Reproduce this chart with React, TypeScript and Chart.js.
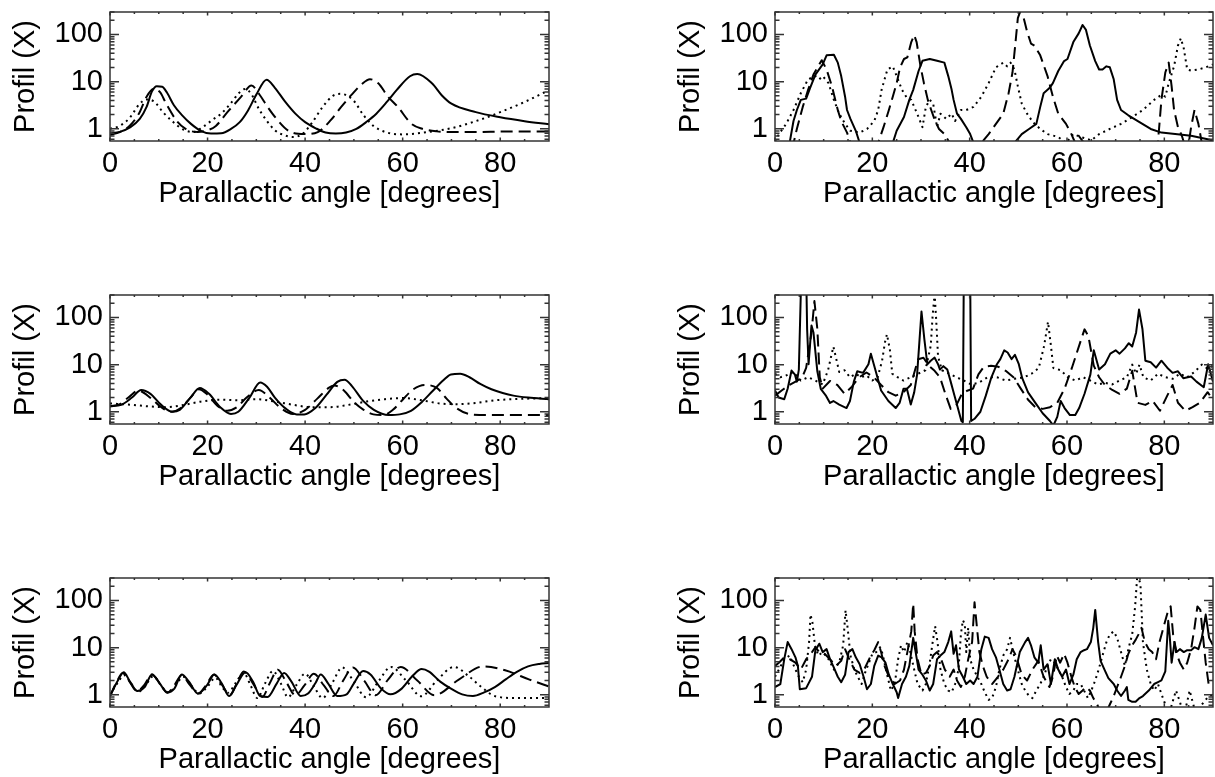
import React, { useEffect, useRef } from "react";
import { Chart, registerables } from "chart.js";

Chart.register(...registerables);

type Pt = [number, number];

// ---------- axis definitions ----------
const xTickValues = [0, 20, 40, 60, 80];
const yTickValues = [1, 10, 100];
const X_MIN = 0;
const X_MAX = 90;
const Y_MIN = 0.55;
const Y_MAX = 300;
const xTitle = "Parallactic angle [degrees]";
const yTitle = "Profil (X)";

// ---------- data: top-left ----------
const tlSolid: Pt[] = [[0,0.8],[2,0.86],[4.1,1.07],[6.1,1.62],[7.5,2.91],[8.6,6.2],[9.6,8.0],[10.7,7.8],[11.7,5.8],[13.1,3.15],[14.8,1.93],[16.6,1.27],[18.6,0.905],[20.7,0.79],[22.8,0.8],[24.8,0.99],[26.6,1.38],[28.3,2.45],[30,5.3],[32.1,11],[33.8,7.4],[35.9,3.75],[38,2.09],[40,1.38],[42.2,1.02],[44.2,0.83],[46.3,0.79],[48.4,0.83],[50.5,0.99],[52.5,1.38],[54.6,2.09],[56.8,3.75],[58.8,6.69],[61.5,13],[63,14.5],[66,9.2],[68,5.15],[70,3.4],[75,2.25],[80,1.75],[85,1.45],[90,1.25]];
const tlDashed: Pt[] = [[0,0.745],[2,0.85],[4,1.15],[6,2.17],[7.5,4.8],[9,7.0],[10.3,5.9],[11.5,3.42],[13.7,1.46],[15.5,1.0],[18,0.85],[20,0.93],[21.7,1.15],[24.2,2.33],[26.9,4.79],[29,8.3],[30.6,5.4],[32.3,2.91],[34,1.69],[36.6,0.905],[39.9,0.77],[42.6,0.85],[45.3,1.54],[47.4,2.91],[49.5,5.24],[51.6,8.8],[53.3,11.2],[55,9.2],[57,4.79],[59,2.91],[61.8,1.27],[64,1.0],[67,0.88],[70,0.85],[75,0.85],[80,0.87],[85,0.88],[90,0.88]];
const tlDotted: Pt[] = [[0,1.0],[2,1.15],[4,1.69],[6,3.3],[7.5,4.2],[9,3.8],[11,2.17],[13,1.38],[15,0.965],[17,0.85],[19,1.08],[21,1.54],[22.8,2.09],[24.7,3.42],[26.5,5.8],[27.7,7.0],[29,5.4],[30.5,2.66],[32,1.54],[33.8,0.93],[35.5,0.745],[37.5,0.67],[39.5,0.78],[41.5,1.38],[43.6,2.91],[45.7,5.0],[47.3,5.5],[49.9,4.0],[52,1.93],[54,1.15],[56.8,0.83],[60,0.76],[65,0.85],[70,1.03],[75,1.45],[80,2.25],[85,3.7],[90,6.6]];

// ---------- data: top-right ----------
const trSolid: Pt[] = [[2.5,0.3],[3.0,0.5],[3.8,1.46],[4.5,2.5],[5.3,4.1],[6.4,4.36],[7.2,7.3],[8.3,14.1],[9.8,23.2],[10.6,36.1],[12.1,37.2],[12.9,25.3],[13.6,13.1],[14.4,4.79],[14.8,2.5],[15.5,1.62],[16.6,0.905],[17.4,0.5],[18,0.3],[23.5,0.3],[24.2,0.5],[25,0.905],[26.5,1.77],[27.6,4.1],[28.4,6.69],[29.5,16.8],[30.3,27.6],[31.8,30.2],[33.3,27.6],[34.8,25.3],[35.6,13.1],[36.3,6.69],[36.7,4.1],[37.4,2.09],[38.2,1.62],[39.3,1.08],[40.1,0.77],[40.8,0.5],[41.5,0.3],[48.5,0.3],[49.2,0.5],[50.7,0.77],[52.2,0.99],[53.7,1.27],[54.5,2.91],[55.2,5.69],[56.4,7.3],[57.1,9.28],[58.2,16.8],[59.4,27.3],[60.1,30.2],[61.3,69],[62.4,105.6],[63.2,159],[63.9,125],[64.7,58.3],[65.8,27.3],[66.6,18.1],[67.3,18.1],[68.1,21.1],[68.8,20.1],[69.6,11.2],[70.3,4.1],[71.1,2.5],[72.6,1.93],[74.9,1.38],[77.2,0.99],[79.4,0.83],[85.5,0.71],[88.9,0.6],[90,0.56]];
const trDashed: Pt[] = [[3.5,0.36],[4.5,1.0],[5.7,2.91],[6.8,6.69],[7.9,14.1],[9.1,23.2],[9.6,28.5],[10.6,18.1],[11.7,7.94],[12.9,2.5],[13.6,1.46],[14.8,0.83],[15.5,0.5],[16.5,0.3],[20.5,0.3],[21.2,0.5],[22.3,1.08],[23.4,2.5],[24.2,4.79],[25,9.28],[25.7,20.1],[26.5,30.2],[27.2,32.8],[28,69],[28.6,97.2],[29.1,69],[29.9,21.1],[30.6,9.28],[31.4,4.1],[32.1,2.5],[32.9,1.46],[33.7,0.99],[34.8,0.77],[35.9,0.5],[36.5,0.3],[41.5,0.3],[42.4,0.5],[43.9,0.77],[45.4,1.27],[46.9,2.09],[48,5.69],[48.8,15.6],[49.5,83.2],[49.9,223],[50.3,290],[51.1,223],[51.8,115],[52.6,64.3],[53.3,58.3],[54.5,36.1],[56,13.1],[57.1,4.79],[58.2,2.09],[59.8,1.27],[60.9,0.77],[61.7,0.5],[62.4,0.71],[63.5,0.5],[64.5,0.3],[78.5,0.3],[79.4,4.1],[80.2,15.6],[80.9,25.3],[81.5,7.94],[82,2.5],[82.8,1.08],[83.6,0.71],[84.7,0.3],[85.5,1.08],[86.2,2.5],[87,1.27],[87.7,0.5],[88.5,0.3]];
const trDotted: Pt[] = [[0,0.53],[0.8,0.77],[2.3,1.27],[3.8,2.5],[5.3,5.69],[6.8,11.2],[8.3,13.1],[9.1,11.2],[9.8,13.1],[11,9.28],[12.1,4.1],[13.2,2.09],[14.4,1.27],[15.5,0.905],[17.4,0.83],[18.9,0.99],[20.4,1.46],[21.2,2.5],[21.9,6.69],[23.1,18.1],[24.2,21.1],[25,13.1],[26.1,6.69],[27,4.71],[28,4.1],[29.5,1.77],[30.3,1.08],[31,2.91],[31.8,4.1],[32.5,3.42],[33.3,1.08],[34,2.09],[35.2,1.62],[36.3,2.09],[37,1.46],[38.2,2.5],[39.3,2.5],[40.8,2.91],[42.4,4.79],[43.9,9.28],[45.4,20.1],[46.9,25.3],[47.7,21.1],[48.4,25.3],[49.2,18.1],[49.9,7.94],[50.7,3.42],[51.8,2.09],[53,1.38],[54.5,0.99],[56,0.77],[58.2,0.67],[59.8,0.5],[61.3,0.77],[62.8,0.67],[65,0.57],[66.6,0.77],[68.8,0.99],[71.1,1.27],[73.4,1.77],[75.6,2.5],[77.9,4.1],[79.4,5.24],[80.2,4.79],[80.9,9.28],[82,21.1],[82.8,58.3],[83.4,83.2],[84,50.3],[84.7,18.1],[85.5,17.1],[87,18.1],[88.5,20.1],[90,23.2]];

// ---------- data: middle-left ----------
const mlSolid: Pt[] = [[0,1.3],[2.3,1.4],[4.5,2.0],[6.4,2.9],[8.3,2.4],[10.5,1.4],[12.8,1.0],[14.3,1.1],[16.5,2.0],[18.4,3.2],[20.3,2.4],[22.6,1.25],[24.8,0.9],[26.3,1.0],[28.6,2.0],[30.8,4.2],[32.2,3.4],[33.8,2.0],[36.1,1.15],[38.3,0.88],[39.8,0.88],[42.1,1.2],[44.4,2.3],[46.6,4.3],[48.1,4.8],[49.6,3.5],[51.9,1.7],[54.1,1.1],[57.1,0.85],[59.4,0.88],[61.7,1.05],[63.9,1.6],[66.2,2.8],[68.4,4.7],[69.9,6.2],[71.8,6.4],[73.7,5.4],[75.9,3.9],[78.2,3.0],[80.5,2.5],[82.7,2.2],[85.7,2.0],[90,1.85]];
const mlDashed: Pt[] = [[0,1.3],[2,1.45],[4,2.1],[5.8,2.8],[8.5,1.9],[10.5,1.25],[12.5,1.0],[14.5,1.2],[16.5,2.0],[18.2,3.0],[20,2.3],[22,1.35],[24,1.05],[26,1.25],[28,2.0],[30.5,2.9],[32.5,2.1],[35,1.2],[37.5,0.9],[40,1.1],[42.5,1.9],[45,3.3],[46,3.6],[48,2.8],[50,1.6],[52,1.1],[54,0.88],[56,0.85],[58,1.1],[60,1.8],[62,2.9],[64.5,3.7],[67,3.2],[69,1.9],[71,1.2],[74,0.88],[78,0.85],[84,0.85],[90,0.85]];
const mlDotted: Pt[] = [[0,1.5],[4.5,1.4],[8,1.3],[11.3,1.25],[14.3,1.35],[18.8,1.65],[22.6,1.8],[26.3,1.75],[30,1.85],[33.8,1.65],[37.6,1.4],[41.4,1.25],[45.1,1.25],[48.9,1.4],[52.6,1.65],[56.4,1.85],[60.2,1.95],[63.9,1.75],[67.7,1.5],[71.4,1.45],[75.2,1.55],[78.9,1.75],[82.7,1.85],[90,1.95]];

// ---------- data: middle-right ----------
const mrSolid: Pt[] = [[0,2.83],[0.75,2.01],[1.9,1.85],[2.6,3.07],[3.4,7.48],[4.1,6.14],[4.5,4.36],[4.9,7.85],[5.3,318],[5.6,1000],[6.4,1000],[6.6,57.1],[6.9,10.2],[7.5,67.8],[7.9,48.1],[8.7,7.21],[9.4,3.07],[10.5,2.17],[11.3,1.54],[12,1.69],[13.2,1.42],[14.7,1.2],[15.4,1.69],[16.2,4.36],[16.9,7.21],[18.1,6.69],[19.2,10.2],[19.7,17.1],[20.3,10.2],[21.1,5.15],[21.8,2.83],[23.3,1.69],[24.8,1.2],[25.6,1.54],[26.4,3.07],[27.1,3.07],[27.9,1.42],[28.6,2.58],[29.2,6.14],[29.7,33.9],[30.1,134],[30.7,33.9],[31.3,10.2],[32,12.1],[32.8,14.1],[33.5,10.2],[33.9,7.85],[34.6,9.28],[35.4,7.85],[36.1,4.36],[36.9,2.17],[37.7,1.08],[38.3,0.637],[38.6,0.6],[38.8,1000],[40.1,1000],[40.3,0.637],[41,0.71],[42.2,1.0],[43.3,2.17],[44.4,5.15],[45.6,10.2],[46.3,13.1],[47.1,20.1],[47.8,18.1],[48.6,13.1],[49.3,16.1],[50.1,10.2],[50.8,5.15],[52,2.58],[53.5,1.54],[55,0.93],[56.5,0.637],[57.2,0.51],[58,0.78],[58.7,1.69],[59.5,1.2],[60.6,0.85],[61.7,0.85],[62.5,1.2],[63.6,2.41],[64.8,6.14],[65.5,20.1],[66.6,7.85],[67.8,10.2],[68.9,17.1],[70,20.1],[70.8,17.1],[71.9,22.1],[72.7,28.5],[73.4,24.2],[74.2,48.1],[74.8,147],[75.5,57.1],[76.1,12.1],[77.2,11.2],[78.3,8.62],[79.4,12.1],[80.6,8.62],[81.7,6.69],[82.8,7.21],[83.9,5.15],[85.5,5.6],[86.6,4.36],[88.1,3.31],[89,10.2],[90,4.36]];
const mrDashed: Pt[] = [[0,2.2],[1.5,2.9],[3,3.7],[4.5,4.5],[5.6,5.4],[6.4,8.5],[7.5,48],[8.1,223],[8.7,57],[9.2,5.4],[9.8,3.1],[11.3,4.5],[12.8,3.7],[14.3,2.4],[15.8,3.4],[17.3,5.4],[18.8,6.8],[20.3,5.4],[21.8,3.7],[23.3,2.6],[24.8,2.2],[26.4,2.6],[27.9,3.7],[29.4,13],[30.5,14],[31.6,9.5],[32.8,7.4],[33.9,5.4],[35,2.4],[36.1,1.15],[37.3,1.4],[38.4,2.4],[39.5,2.8],[40.7,3.1],[41.8,6.2],[42.9,9],[44.4,9.5],[45.9,9],[47.4,7.4],[49,5.4],[50.5,3.1],[52,1.8],[53.5,1.25],[55,1.15],[56.5,1.25],[58,1.55],[59.5,3.1],[61,8.5],[62.1,19],[62.9,34],[63.6,56],[64.4,40],[65.5,9.5],[66.6,5.4],[67.8,3.7],[69.3,2.9],[70.8,2.4],[72.3,3.1],[73.4,7.4],[74.5,1.55],[76.1,1.4],[77.6,1.7],[79.1,1.05],[80.6,2.2],[81.7,3.7],[82.8,1.55],[84.3,1.05],[85.8,1.25],[87.3,1.55],[88.9,2.6],[90,1.8]];
const mrDotted: Pt[] = [[0,6.4],[1.1,5.4],[2.3,5.9],[3.8,7],[5.3,4.6],[6.8,5.4],[8.3,4.6],[9.8,3.8],[10.9,7.6],[11.6,16],[12,24],[12.6,13],[13.2,7],[14.3,7.6],[15.4,5.4],[16.6,6.4],[17.7,5.4],[18.8,5.9],[20,4.6],[21.1,5.4],[22,12],[22.6,30],[23,44],[23.6,21],[24.1,6.4],[25.2,5.4],[26.4,4.6],[27.9,5.4],[29.4,6.4],[30.9,7.6],[32,25],[32.4,113],[32.8,318],[33.1,97],[33.5,15],[34.3,7.6],[35.8,6.4],[37.3,5.4],[38.8,4.6],[40.3,3.8],[41.8,4.1],[43.7,5.4],[45.6,5.4],[47.4,4.6],[49.3,5],[51.2,5.4],[52.7,6.4],[54.2,8.5],[55.3,25],[56.1,81],[56.7,25],[57.2,8.5],[58.7,7.6],[60.2,5.4],[61.7,4.6],[63.3,5.4],[64.8,4.6],[66.3,3.8],[67.8,4.1],[69.3,3.8],[70.8,4.6],[72.3,5.4],[73.4,10],[74.2,6.4],[74.9,10],[75.7,5.4],[77.2,4.6],[78.7,6.4],[80.2,5.4],[81.7,5],[83.2,6.4],[84.7,5.4],[86.2,7],[87.7,10],[88.9,8.2],[90,9.5]];

// ---------- data: bottom-left ----------
const blSolid: Pt[] = [[0,0.94],[1.5,1.9],[2.8,3.0],[4.1,1.9],[5.6,1.2],[7.1,1.45],[8.6,2.7],[10.2,1.75],[11.7,1.12],[13.2,1.35],[14.7,2.7],[16.2,1.9],[18,1.06],[19.9,1.6],[21.4,2.7],[22.9,1.75],[24.4,0.94],[25.9,1.6],[27.8,3.0],[29.3,1.9],[30.8,0.94],[32.3,0.9],[34.2,1.75],[35.7,2.9],[37.2,1.9],[39.1,0.94],[40.6,1.06],[42.1,1.75],[43.2,2.7],[44.7,1.75],[46.6,0.94],[48.5,1.02],[50,1.75],[51.9,3.2],[53.4,2.7],[55.6,1.35],[57.5,1.02],[59.8,1.35],[62,2.5],[63.9,3.5],[65.4,3.1],[67.7,1.9],[69.9,1.35],[72.2,1.02],[74.4,0.94],[76.7,1.12],[78.9,1.45],[81.2,2.15],[83.5,3.1],[85.7,4.0],[88,4.5],[90,4.7]];
const blDashed: Pt[] = [[0,0.94],[1.3,1.8],[2.6,2.9],[4,1.9],[5.5,1.2],[7,1.6],[8.6,2.7],[10.2,1.75],[11.8,1.12],[13.2,1.6],[14.7,2.6],[16.4,1.6],[18.1,1.06],[19.7,1.6],[21.3,2.7],[23,1.6],[24.6,0.98],[26,1.75],[27.4,3.1],[29.3,1.75],[31.2,0.9],[32.8,1.8],[34.4,3.4],[36.2,1.8],[38,0.98],[39.9,1.6],[41.8,2.8],[43.8,1.6],[45.8,0.94],[47.8,2.0],[49.8,3.8],[52.1,2.0],[54.5,0.98],[57,2.1],[59.6,3.9],[63,2.0],[66.5,0.98],[71.5,2.1],[76.5,4.0],[81,3.3],[86,2.1],[90,1.5]];
const blDotted: Pt[] = [[0,1.0],[1.5,1.75],[2.9,2.6],[4.3,1.75],[5.8,1.15],[7.3,1.6],[8.9,2.5],[10.4,1.6],[12,1.1],[13.5,1.6],[15,2.4],[16.6,1.6],[18.3,1.06],[20,1.5],[21.6,2.3],[22.9,1.5],[24.2,1.1],[25.8,1.8],[27.4,2.9],[28.8,1.6],[30.2,0.85],[31.8,1.75],[33.4,3.2],[35,1.75],[36.5,0.89],[38.2,1.6],[40,2.8],[41.8,1.5],[43.6,0.85],[45.6,1.8],[47.6,3.8],[50,1.9],[52.5,0.89],[55,1.9],[57.6,3.9],[60.7,2.0],[63.8,0.93],[67,2.0],[70.5,3.9],[73.5,2.5],[76,1.5],[79,0.93],[84,0.85],[90,0.85]];

// ---------- data: bottom-right ----------
const brSolid: Pt[] = [[0,1.46],[1.1,1.69],[1.9,5.69],[2.6,13.1],[3.4,9.28],[4.2,6.23],[4.7,4.1],[5.1,1.31],[6.4,1.38],[7.6,2.41],[8.3,8.81],[9.1,12.1],[9.8,8.04],[10.6,9.28],[11.3,5.69],[12.1,3.75],[12.9,2.41],[13.6,1.85],[14.4,2.66],[15.1,8.04],[15.9,9.28],[16.6,6.23],[17.4,4.45],[18.2,2.41],[18.9,1.31],[19.7,1.69],[20.4,4.1],[21.2,6.78],[21.9,6.23],[22.7,4.79],[23.4,2.66],[24.2,1.69],[25,1.13],[25.3,0.85],[26.1,1.69],[26.9,2.41],[27.6,4.1],[28.4,16.1],[28.9,8.04],[29.5,3.42],[30.3,2.66],[31,2.01],[31.8,1.23],[32.5,1.69],[33.3,5.69],[34,6.78],[34.8,8.04],[35.6,13.1],[36.2,22.1],[36.7,7.39],[37.2,11.2],[37.8,3.42],[38.6,2.41],[39.3,1.69],[40.1,2.01],[40.8,1.69],[41.6,2.41],[42.4,9.28],[43.1,17.1],[43.9,16.1],[44.6,9.28],[45.4,6.23],[46.1,3.42],[46.9,1.69],[47.7,1.23],[48.4,1.31],[49.2,2.41],[50.3,8.04],[51.4,13.1],[52,16.1],[52.6,11.2],[53.3,6.23],[54.1,4.79],[54.6,11.2],[55.2,3.42],[56,4.45],[56.7,1.69],[57.5,5.69],[58.2,3.42],[59,2.41],[59.8,3.42],[60.5,1.69],[61.3,2.66],[62,5.69],[62.8,8.04],[63.5,8.81],[64.1,9.28],[64.9,13.1],[65.4,26.3],[65.8,63.1],[66.4,13.1],[66.9,5.24],[67.7,3.42],[68.5,2.25],[69.6,1.69],[70.3,1.23],[71.1,0.94],[71.9,1.23],[72.3,1.46],[72.6,0.78],[73.4,0.71],[74.1,0.71],[74.9,0.85],[75.6,0.94],[76.8,1.23],[77.9,1.69],[78.7,1.85],[79.4,2.01],[80.2,3.15],[80.8,37.2],[81.1,18.1],[81.5,4.79],[82.1,13.1],[82.5,8.04],[83.2,9.28],[84,8.04],[84.7,8.81],[85.5,8.81],[86.2,10.2],[87,9.28],[87.7,16.1],[88.5,50.3],[89.2,16.1],[90,11.2]];
const brDashed: Pt[] = [[0,4.1],[0.8,4.79],[1.9,6.23],[3,5.69],[4.2,4.79],[5.3,3.42],[6.4,5.69],[7.6,8.04],[8.3,10.2],[9.1,8.04],[10.2,7.39],[11.3,5.69],[12.5,4.1],[13.6,5.24],[14.4,9.28],[15.1,6.23],[16.3,3.42],[17.4,2.91],[18.5,3.75],[19.7,6.78],[20.4,8.81],[21.2,13.1],[21.8,8.04],[22.5,4.1],[23.4,2.41],[24.6,1.69],[25.7,2.01],[26.5,3.42],[27.2,8.04],[28,22.1],[28.4,85.6],[28.7,22.1],[29.3,5.69],[30.1,2.66],[31,2.91],[31.8,4.1],[32.5,6.78],[33.3,8.04],[34,6.23],[34.9,3.42],[35.9,2.41],[36.7,3.42],[37.4,2.01],[38.2,1.46],[39,2.41],[39.7,5.69],[40.5,13.1],[41,91.5],[41.5,26.3],[42,8.04],[42.7,4.1],[43.5,2.41],[44.6,1.69],[45.8,2.41],[46.9,3.42],[48,5.69],[48.8,9.28],[49.5,6.78],[50.7,2.66],[51.8,2.01],[52.9,3.42],[54.1,5.24],[55.2,2.41],[56.4,1.46],[57.1,2.41],[57.9,6.78],[58.6,4.79],[59.4,7.39],[60.1,4.79],[60.9,2.41],[61.6,1.46],[62.4,1.04],[63.2,1.23],[63.9,1.46],[64.7,1.23],[65.4,0.85],[66.2,0.62],[66.9,0.43],[67.7,0.36],[68.8,0.62],[69.6,0.94],[70.3,1.46],[71.1,2.41],[71.9,4.1],[72.6,7.39],[73.4,11.2],[74.1,14.6],[74.7,19.1],[75.3,26.3],[76,13.1],[76.8,9.28],[77.5,8.04],[78.3,5.69],[79,13.1],[79.8,26.3],[80.6,52.6],[81.3,74.9],[81.8,19.1],[82.4,8.04],[83.2,4.79],[84,3.42],[84.7,4.79],[85.5,9.28],[86.2,26.3],[86.8,74.9],[87.4,63.1],[87.9,19.1],[88.5,4.79],[89.1,1.69],[90,1.69]];
const brDotted: Pt[] = [[0,2.41],[0.8,3.42],[1.9,5.69],[3,6.78],[4.2,3.42],[4.9,2.41],[5.7,1.85],[6.4,3.42],[7,13.1],[7.3,50.3],[7.7,33.9],[8.2,11.2],[8.9,6.78],[9.8,8.04],[11,5.69],[12.1,3.42],[13.2,4.79],[14,11.2],[14.5,62],[15,22.1],[15.5,6.78],[16.3,3.42],[17,2.41],[17.8,1.69],[18.5,2.91],[19.3,4.79],[20,7.39],[20.8,8.04],[21.6,10.2],[22.1,7.39],[22.8,3.42],[23.8,1.23],[24.6,1.69],[25.3,5.69],[25.9,11.2],[26.5,8.04],[27.2,13.1],[27.8,8.04],[28.6,3.42],[29.3,1.69],[30.3,1.23],[31,1.69],[31.8,4.79],[32.4,13.1],[32.9,28.5],[33.4,13.1],[34,3.42],[34.8,1.69],[35.6,1.23],[36.3,1.13],[37,1.69],[37.7,3.42],[38.2,19.1],[38.6,38.3],[39,31.7],[39.3,8.04],[39.7,26.3],[40.1,5.69],[40.8,3.42],[41.6,2.41],[42.4,1.69],[43.1,1.13],[43.9,0.78],[44.6,0.85],[45.4,1.46],[46.1,3.42],[46.9,6.78],[47.7,9.28],[48.3,16.1],[48.8,9.28],[49.5,4.79],[50.7,1.69],[51.4,1.23],[52.2,0.94],[52.9,0.85],[53.7,1.23],[54.5,1.69],[55.2,2.41],[56,4.1],[56.7,5.69],[57.5,4.79],[58.2,3.42],[59,2.41],[59.8,1.46],[60.5,1.04],[61.3,1.23],[62,1.69],[62.8,1.69],[63.5,1.23],[64.3,0.85],[65,1.23],[65.8,2.01],[66.5,3.42],[67.3,6.78],[68.1,13.1],[68.8,19.1],[69.6,22.1],[70.3,16.1],[71.1,8.04],[71.9,4.1],[72.6,9.28],[73.4,19.1],[74,74.9],[74.5,415],[75.1,210],[75.6,13.1],[76.4,3.42],[77.2,1.69],[77.9,1.23],[78.7,1.69],[79.4,1.04],[80.2,0.62],[80.9,0.36],[81.7,0.71],[82.4,1.23],[83.2,0.71],[84,0.36],[84.7,0.71],[85.2,1.23],[85.8,0.71],[86.6,0.36],[87.7,0.62],[88.8,0.85],[90,1.04]];

// ---------- styling / layout ----------
const FONT = { family: "'Liberation Sans', Arial, Helvetica, sans-serif", size: 29 };
const DASHES: number[][] = [[], [12, 6], [2, 4]];
const CANVAS_H = 283;
const PLOT_TOP = 12;
const PLOT_H = 129;
const X_AXIS_H = 70;
const Y_AXIS_W = 110;
const AXIS_COLOR = "#333333";

const framePlugin = {
  id: "idlFrame",
  afterDatasetsDraw(chart: any) {
    const { ctx, chartArea: a, scales } = chart;
    const xs = scales.x;
    const ys = scales.y;
    ctx.save();
    ctx.strokeStyle = AXIS_COLOR;
    ctx.lineWidth = 1.5;
    ctx.strokeRect(a.left, a.top, a.right - a.left, a.bottom - a.top);
    ctx.beginPath();
    for (let v = X_MIN; v < X_MAX; v += 5) {
      const px = xs.getPixelForValue(v);
      const len = v % 20 === 0 ? 3.5 : 2;
      ctx.moveTo(px, a.bottom);
      ctx.lineTo(px, a.bottom - len);
      ctx.moveTo(px, a.top);
      ctx.lineTo(px, a.top + len);
    }
    for (const d of [0.1, 1, 10, 100]) {
      for (let k = 1; k <= 9; k++) {
        const v = d * k;
        if (v < Y_MIN || v > Y_MAX) continue;
        const py = ys.getPixelForValue(v);
        const len = k === 1 ? 9 : 4.5;
        ctx.moveTo(a.left, py);
        ctx.lineTo(a.left + len, py);
        ctx.moveTo(a.right, py);
        ctx.lineTo(a.right - len, py);
      }
    }
    ctx.stroke();
    ctx.restore();
  },
};

type PanelProps = {
  left: number;
  top: number;
  width: number;
  padRight: number;
  series: Pt[][];
  smooth: boolean;
};

function Panel({ left, top, width, padRight, series, smooth }: PanelProps) {
  const ref = useRef<HTMLCanvasElement | null>(null);
  useEffect(() => {
    const canvas = ref.current;
    if (!canvas) return;
    const padBottom = CANVAS_H - (PLOT_TOP + PLOT_H) - X_AXIS_H;
    const chart = new Chart(canvas, {
      type: "line",
      data: {
        datasets: series.map((pts, i) => ({
          data: pts.map(([x, y]) => ({ x, y })),
          borderColor: "#000",
          backgroundColor: "#000",
          borderWidth: 2,
          borderDash: DASHES[i],
          borderCapStyle: "butt",
          borderJoinStyle: "round",
          pointRadius: 0,
          fill: false,
          clip: 0,
          tension: 0,
          cubicInterpolationMode: smooth ? "monotone" : "default",
        })),
      } as any,
      options: {
        animation: false,
        responsive: false,
        devicePixelRatio: 1,
        events: [],
        layout: { padding: { left: 0, right: padRight, top: PLOT_TOP, bottom: padBottom } },
        plugins: { legend: { display: false }, tooltip: { enabled: false } },
        scales: {
          x: {
            type: "linear",
            min: X_MIN,
            max: X_MAX,
            afterBuildTicks: (s: any) => {
              s.ticks = xTickValues.map((v) => ({ value: v }));
            },
            afterFit: (s: any) => {
              s.height = X_AXIS_H;
              s.paddingLeft = 0;
              s.paddingRight = 0;
            },
            ticks: {
              font: FONT,
              color: "#000",
              padding: 6,
              maxRotation: 0,
              minRotation: 0,
              autoSkip: false,
              callback: (v: any) => String(v),
            },
            grid: { display: false, drawTicks: false },
            border: { display: false },
            title: { display: true, text: xTitle, font: FONT, color: "#000", padding: { top: 0, bottom: 0 } },
          },
          y: {
            type: "logarithmic",
            min: Y_MIN,
            max: Y_MAX,
            afterBuildTicks: (s: any) => {
              s.ticks = yTickValues.map((v) => ({ value: v }));
            },
            afterFit: (s: any) => {
              s.width = Y_AXIS_W;
              s.paddingTop = 0;
              s.paddingBottom = 0;
            },
            ticks: {
              font: FONT,
              color: "#000",
              padding: 7,
              autoSkip: false,
              callback: (v: any) => String(v),
            },
            grid: { display: false, drawTicks: false },
            border: { display: false },
            title: { display: true, text: yTitle, font: FONT, color: "#000", padding: { top: 9, bottom: 0 } },
          },
        },
      } as any,
      plugins: [framePlugin],
    });
    return () => chart.destroy();
  }, []);
  return (
    <canvas
      ref={ref}
      width={width}
      height={CANVAS_H}
      style={{ position: "absolute", left, top, width, height: CANVAS_H, display: "block" }}
    />
  );
}

const rowTops = [0, 283, 566];

export default function App() {
  return (
    <div
      style={{
        position: "fixed",
        left: 0,
        top: 0,
        width: 1215,
        height: 777,
        overflow: "hidden",
        background: "#fff",
      }}
    >
      <Panel left={0} top={rowTops[0]} width={607} padRight={58} series={[tlSolid, tlDashed, tlDotted]} smooth={true} />
      <Panel left={665} top={rowTops[0]} width={550} padRight={2} series={[trSolid, trDashed, trDotted]} smooth={false} />
      <Panel left={0} top={rowTops[1]} width={607} padRight={58} series={[mlSolid, mlDashed, mlDotted]} smooth={true} />
      <Panel left={665} top={rowTops[1]} width={550} padRight={2} series={[mrSolid, mrDashed, mrDotted]} smooth={false} />
      <Panel left={0} top={rowTops[2]} width={607} padRight={58} series={[blSolid, blDashed, blDotted]} smooth={true} />
      <Panel left={665} top={rowTops[2]} width={550} padRight={2} series={[brSolid, brDashed, brDotted]} smooth={false} />
    </div>
  );
}
